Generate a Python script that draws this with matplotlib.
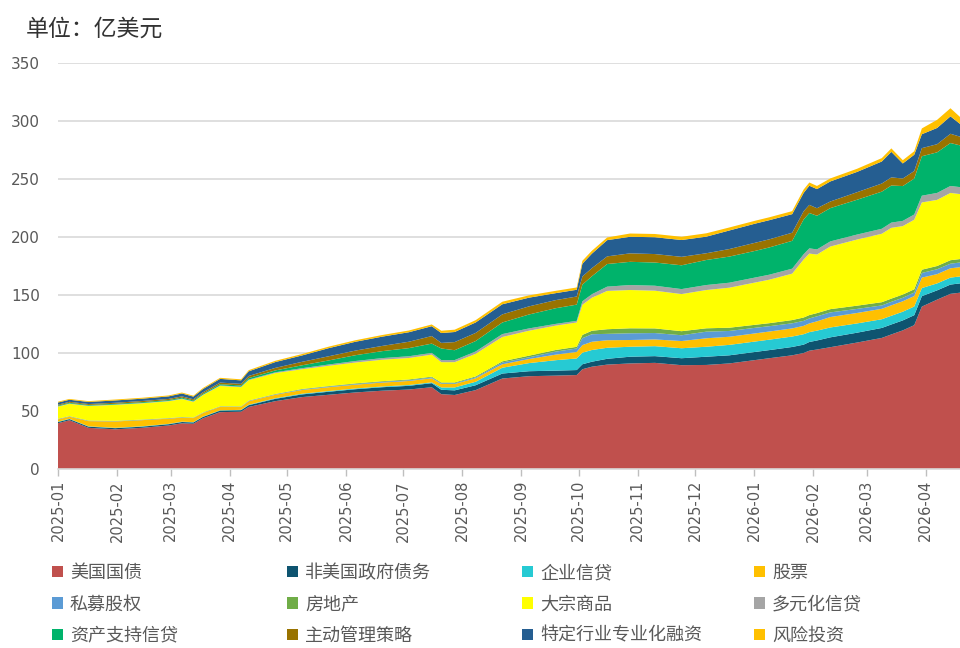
import pandas as pd
import matplotlib
matplotlib.use("Agg")
import matplotlib.pyplot as plt
import matplotlib.dates as mdates
from matplotlib.patches import Patch

cjk = ['Noto Sans CJK SC', 'DejaVu Sans']

dates = ["2025-01-01", "2025-01-07", "2025-01-17", "2025-01-31", "2025-02-14", "2025-02-28",
         "2025-03-07", "2025-03-13", "2025-03-18", "2025-03-27", "2025-04-07", "2025-04-11",
         "2025-04-25", "2025-05-09", "2025-05-23", "2025-06-06", "2025-06-20", "2025-07-04",
         "2025-07-16", "2025-07-21", "2025-07-28", "2025-08-08", "2025-08-22", "2025-09-05",
         "2025-09-19", "2025-09-30", "2025-10-03", "2025-10-08", "2025-10-16", "2025-10-28",
         "2025-11-10", "2025-11-24", "2025-12-07", "2025-12-19", "2026-01-02", "2026-01-09",
         "2026-01-21", "2026-01-27", "2026-01-30", "2026-02-03", "2026-02-10", "2026-02-24",
         "2026-03-09", "2026-03-14", "2026-03-20", "2026-03-26", "2026-03-30", "2026-04-07",
         "2026-04-14", "2026-04-19"]

labels = ["美国国债", "非美国政府债务", "企业信贷", "股票", "私募股权", "房地产",
          "大宗商品", "多元化信贷", "资产支持信贷", "主动管理策略", "特定行业专业化融资", "风险投资"]

us_treasury = [39.5, 42.0, 35.5, 34.2, 35.5, 37.5, 39.4, 39.0, 43.7, 49.0, 49.4, 53.5,
               58.5, 62.0, 64.0, 66.0, 67.5, 68.5, 70.5, 64.5, 63.8, 68.0, 78.0, 80.0,
               80.5, 81.0, 86.0, 88.2, 90.0, 91.0, 91.5, 89.5, 89.7, 91.0, 94.0, 95.5,
               98.0, 100.0, 102.0, 103.0, 105.0, 109.0, 113.0, 116.0, 119.5, 124.0, 140.0, 146.0,
               151.0, 152.0]
non_us_gov = [1.0, 1.0, 1.0, 1.0, 1.0, 1.1, 1.1, 1.1, 1.2, 1.3, 1.3, 1.5,
              2.0, 2.3, 2.6, 2.8, 3.0, 3.2, 3.5, 3.8, 4.0, 4.2, 4.3, 4.3,
              4.3, 4.3, 4.3, 4.3, 5.0, 5.8, 5.8, 6.0, 7.1, 7.0, 7.0, 7.0,
              7.2, 7.2, 7.5, 7.8, 8.5, 8.5, 8.6, 8.6, 8.6, 8.6, 9.0, 8.0,
              8.0, 8.0]
corp_credit = [0.3, 0.3, 0.3, 0.3, 0.3, 0.3, 0.3, 0.3, 0.3, 0.3, 0.3, 0.4,
               0.5, 0.6, 0.6, 0.6, 0.6, 0.7, 0.7, 2.0, 2.5, 3.0, 5.0, 7.0,
               9.0, 10.0, 10.0, 10.1, 9.5, 8.6, 8.6, 8.6, 8.6, 9.0, 9.0, 9.0,
               9.0, 9.0, 8.5, 8.5, 8.5, 8.0, 7.5, 7.5, 7.5, 7.5, 7.0, 6.0,
               6.0, 6.0]
equity = [2.0, 1.8, 4.5, 5.5, 5.3, 4.5, 3.5, 3.5, 3.0, 3.0, 2.5, 3.0,
          3.0, 3.2, 3.3, 3.3, 3.4, 3.5, 3.5, 3.0, 3.0, 3.0, 3.0, 3.5,
          4.8, 5.6, 6.5, 7.1, 6.5, 5.8, 5.8, 6.2, 7.3, 7.0, 7.0, 7.0,
          7.0, 7.2, 7.5, 8.0, 9.0, 9.0, 9.0, 9.0, 9.0, 9.0, 9.0, 8.0,
          8.0, 8.0]
private_equity = [0.2, 0.2, 0.2, 0.2, 0.2, 0.2, 0.2, 0.2, 0.2, 0.2, 0.2, 0.3,
                  0.3, 0.4, 0.5, 0.5, 0.6, 0.6, 0.7, 0.6, 0.6, 0.8, 1.5, 1.5,
                  2.6, 3.0, 6.0, 6.5, 5.5, 5.8, 5.5, 5.0, 5.7, 5.0, 4.8, 4.6,
                  4.4, 4.3, 4.3, 4.3, 4.0, 3.5, 2.9, 3.0, 3.0, 3.0, 4.0, 4.2,
                  4.0, 4.0]
real_estate = [0.3, 0.3, 0.3, 0.3, 0.3, 0.3, 0.3, 0.3, 0.3, 0.3, 0.3, 0.3,
               0.4, 0.5, 0.5, 0.6, 0.6, 0.7, 0.7, 0.7, 0.7, 0.8, 1.0, 1.4,
               1.4, 1.4, 2.8, 3.0, 4.0, 4.3, 4.0, 3.5, 2.9, 2.8, 2.6, 2.6,
               2.8, 2.9, 2.9, 2.8, 2.8, 2.8, 2.8, 2.8, 2.8, 2.8, 2.8, 2.8,
               3.0, 3.0]
commodity = [10.5, 10.6, 12.5, 13.8, 14.0, 14.5, 15.5, 13.5, 15.0, 17.5, 16.5, 17.5,
             18.0, 17.0, 17.5, 18.0, 18.5, 18.5, 19.0, 17.5, 17.5, 19.5, 21.0, 21.5,
             21.0, 21.0, 26.0, 28.5, 33.0, 33.0, 32.5, 32.0, 33.0, 34.5, 36.5, 37.5,
             40.0, 50.0, 53.0, 50.5, 54.0, 57.0, 59.0, 61.0, 59.0, 60.0, 58.0, 57.0,
             58.0, 56.0]
diversified_credit = [0.3, 0.3, 0.3, 0.3, 0.3, 0.3, 0.4, 0.4, 0.4, 0.5, 0.5, 0.6,
                      0.7, 0.9, 1.1, 1.3, 1.4, 1.5, 1.5, 1.8, 1.8, 2.0, 2.5, 2.0,
                      1.5, 1.4, 3.0, 3.0, 3.7, 4.3, 4.3, 4.3, 4.3, 4.3, 4.3, 4.3,
                      4.3, 4.5, 4.5, 4.4, 4.4, 4.3, 4.3, 4.5, 4.5, 4.5, 5.8, 6.0,
                      6.0, 6.0]
asset_backed = [0.6, 0.6, 0.6, 0.6, 0.7, 0.7, 0.8, 0.8, 0.8, 1.0, 1.0, 1.3,
                1.6, 2.5, 3.5, 5.0, 6.0, 7.0, 8.0, 10.0, 8.5, 9.0, 10.0, 12.0,
                13.5, 14.0, 14.4, 15.5, 19.5, 20.0, 20.0, 20.5, 21.6, 22.5, 23.0, 23.5,
                24.0, 30.0, 30.5, 29.0, 28.7, 30.0, 32.0, 32.0, 30.0, 31.0, 34.0, 35.0,
                37.0, 36.0]
active_mgmt = [0.8, 0.8, 0.8, 0.9, 1.0, 1.0, 1.1, 1.0, 1.2, 1.4, 1.4, 1.8,
               2.2, 3.0, 3.6, 4.0, 4.5, 5.5, 6.5, 4.8, 7.0, 7.0, 7.0, 7.0,
               7.0, 7.0, 7.0, 7.0, 6.6, 7.3, 7.3, 7.3, 5.8, 6.5, 7.0, 7.0,
               7.0, 7.1, 7.0, 6.5, 5.7, 6.5, 7.0, 7.0, 6.5, 6.5, 7.0, 7.0,
               8.0, 7.5]
specialty_finance = [1.8, 1.8, 1.8, 2.0, 2.0, 2.2, 2.5, 2.3, 2.8, 3.2, 3.0, 4.0,
                     5.0, 5.5, 7.0, 7.6, 8.0, 8.2, 8.5, 8.5, 8.7, 9.0, 8.7, 7.5,
                     6.0, 5.8, 11.0, 12.5, 14.0, 14.3, 14.5, 14.5, 14.3, 16.0, 16.5, 16.5,
                     16.0, 15.8, 16.5, 16.5, 17.3, 17.5, 19.0, 22.0, 13.0, 14.0, 12.0, 14.0,
                     15.0, 11.0]
venture = [0.7, 0.7, 0.7, 0.8, 0.8, 0.8, 0.8, 0.8, 0.9, 0.9, 0.9, 1.0,
           1.1, 1.2, 1.3, 1.3, 1.4, 1.5, 1.5, 2.0, 2.0, 2.0, 2.2, 2.0,
           2.0, 2.0, 2.5, 2.5, 2.3, 2.8, 2.8, 2.8, 2.9, 2.6, 2.5, 2.5,
           2.6, 2.9, 2.8, 2.7, 2.6, 2.7, 2.9, 3.0, 2.8, 3.0, 5.0, 7.0,
           7.0, 6.0]

colors = ["#C0504D", "#0E5470", "#26CAD3", "#FFC000", "#5B9BD5", "#70AD47",
          "#FFFF00", "#A5A5A5", "#00B36B", "#997300", "#255E91", "#FFC000"]

series = [us_treasury, non_us_gov, corp_credit, equity, private_equity, real_estate,
          commodity, diversified_credit, asset_backed, active_mgmt, specialty_finance, venture]

x = pd.to_datetime(dates)

fig = plt.figure(figsize=(9.6, 6.48), dpi=100)
ax = fig.add_axes([58 / 960, 1 - 469 / 648, 902 / 960, 406 / 648])

ax.stackplot(x, *series, colors=colors, linewidth=0, zorder=2)

ax.set_ylim(0, 350)
ax.set_yticks(range(0, 351, 50))
ax.set_xlim(x[0], x[-1])
ax.xaxis.set_major_locator(mdates.MonthLocator())
ax.xaxis.set_major_formatter(mdates.DateFormatter("%Y-%m"))

ax.grid(axis="y", color="#D9D9D9", linewidth=1.2, zorder=0)
ax.set_axisbelow(True)
for side in ["left", "right", "top"]:
    ax.spines[side].set_visible(False)
ax.spines["bottom"].set_color("#D9D9D9")
ax.spines["bottom"].set_linewidth(1.2)

ax.tick_params(axis="y", length=0, pad=13, labelsize=11, labelcolor="#595959")
ax.tick_params(axis="x", length=5, color="#BFBFBF", width=1, pad=3,
               labelsize=10.5, labelcolor="#595959", labelrotation=90)

fig.text(26 / 960, 1 - 29 / 648, "单位：亿美元", fontsize=16.5, family=cjk,
         color="#333333", va="center", ha="left")

# legend: four columns, filled row by row
col_x = [52, 287, 522, 754]
for c in range(4):
    handles = []
    for r in range(3):
        i = r * 4 + c
        handles.append(Patch(facecolor=colors[i], edgecolor="none", label=labels[i]))
    fig.legend(handles=handles, loc="upper left",
               bbox_to_anchor=(col_x[c] / 960, 1 - 564 / 648),
               frameon=False, borderpad=0, borderaxespad=0,
               handlelength=0.6, handleheight=0.6, handletextpad=0.4,
               labelspacing=0.74, labelcolor="#595959",
               prop={"family": cjk, "size": 13})

fig.savefig("out.png", dpi=100)
